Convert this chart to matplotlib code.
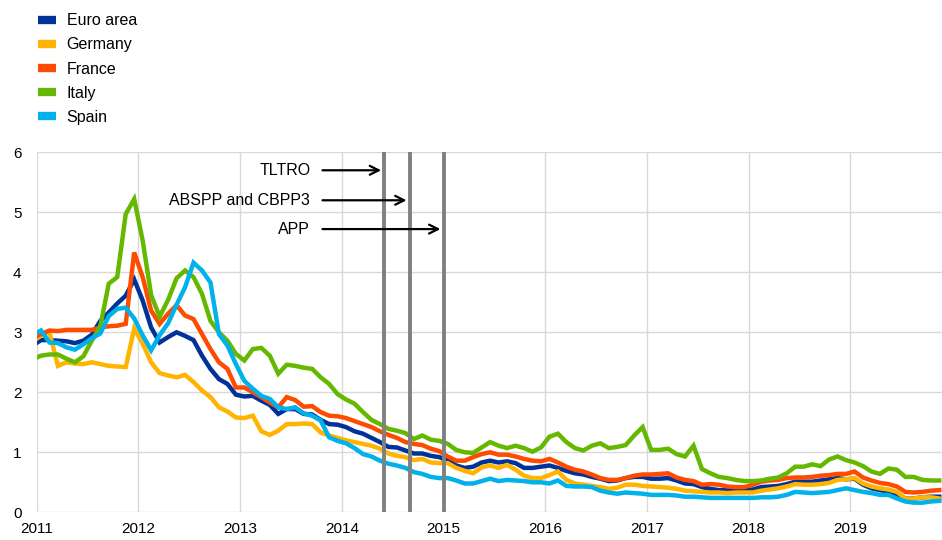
import numpy as np
import matplotlib
matplotlib.use("Agg")
import matplotlib.pyplot as plt
from matplotlib.lines import Line2D

plt.rcParams['font.family'] = ['Liberation Sans', 'DejaVu Sans']

# monthly data, Dec 2010 .. Nov 2019 (percentages)
euro_area = [2.78,
    2.87, 2.87, 2.86, 2.85, 2.82, 2.86, 2.96, 3.19, 3.33, 3.48, 3.61, 3.88,
    3.53, 3.08, 2.83, 2.92, 3.00, 2.94, 2.87, 2.61, 2.39, 2.22, 2.14, 1.96,
    1.93, 1.94, 1.86, 1.79, 1.64, 1.72, 1.72, 1.64, 1.63, 1.54, 1.47, 1.46,
    1.42, 1.35, 1.31, 1.24, 1.17, 1.09, 1.08, 1.03, 0.98, 0.98, 0.94, 0.92,
    0.86, 0.78, 0.74, 0.76, 0.83, 0.86, 0.83, 0.85, 0.82, 0.74, 0.74, 0.76,
    0.78, 0.74, 0.69, 0.65, 0.63, 0.59, 0.56, 0.52, 0.53, 0.57, 0.59, 0.59,
    0.56, 0.56, 0.57, 0.53, 0.48, 0.47, 0.42, 0.39, 0.37, 0.37, 0.36, 0.37,
    0.38, 0.42, 0.43, 0.44, 0.47, 0.51, 0.51, 0.51, 0.53, 0.55, 0.57, 0.55,
    0.56, 0.46, 0.40, 0.37, 0.34, 0.29, 0.23, 0.23, 0.25, 0.26, 0.26]
germany = [2.85,
    2.94, 3.00, 2.44, 2.50, 2.48, 2.47, 2.50, 2.47, 2.44, 2.43, 2.42, 3.06,
    2.81, 2.50, 2.32, 2.28, 2.25, 2.29, 2.17, 2.03, 1.92, 1.75, 1.68, 1.58,
    1.57, 1.61, 1.35, 1.29, 1.36, 1.47, 1.47, 1.48, 1.47, 1.33, 1.28, 1.24,
    1.20, 1.17, 1.14, 1.11, 1.06, 0.98, 0.94, 0.92, 0.87, 0.89, 0.83, 0.82,
    0.82, 0.74, 0.69, 0.65, 0.75, 0.78, 0.74, 0.79, 0.71, 0.61, 0.57, 0.57,
    0.62, 0.68, 0.54, 0.48, 0.46, 0.44, 0.42, 0.39, 0.41, 0.46, 0.46, 0.44,
    0.43, 0.42, 0.41, 0.39, 0.36, 0.35, 0.34, 0.33, 0.33, 0.32, 0.33, 0.33,
    0.33, 0.36, 0.38, 0.40, 0.43, 0.47, 0.46, 0.46, 0.47, 0.49, 0.54, 0.55,
    0.57, 0.48, 0.43, 0.40, 0.38, 0.34, 0.23, 0.23, 0.25, 0.25, 0.23]
france = [2.90,
    2.97, 3.03, 3.02, 3.04, 3.04, 3.04, 3.04, 3.08, 3.10, 3.11, 3.14, 4.33,
    3.92, 3.36, 3.14, 3.31, 3.45, 3.28, 3.22, 2.97, 2.72, 2.50, 2.39, 2.08,
    2.08, 2.00, 1.92, 1.83, 1.75, 1.92, 1.87, 1.76, 1.77, 1.67, 1.61, 1.60,
    1.57, 1.52, 1.47, 1.42, 1.35, 1.29, 1.24, 1.17, 1.14, 1.12, 1.06, 1.02,
    0.93, 0.86, 0.86, 0.92, 0.97, 1.00, 0.96, 0.96, 0.93, 0.89, 0.86, 0.85,
    0.89, 0.83, 0.76, 0.71, 0.68, 0.63, 0.57, 0.54, 0.54, 0.57, 0.61, 0.63,
    0.63, 0.64, 0.65, 0.58, 0.54, 0.52, 0.46, 0.47, 0.46, 0.43, 0.42, 0.42,
    0.46, 0.51, 0.53, 0.54, 0.57, 0.58, 0.58, 0.59, 0.61, 0.62, 0.64, 0.64,
    0.68, 0.58, 0.53, 0.49, 0.47, 0.43, 0.34, 0.33, 0.34, 0.36, 0.37]
italy = [2.55,
    2.61, 2.63, 2.63, 2.56, 2.50, 2.60, 2.86, 3.10, 3.81, 3.92, 4.97, 5.22,
    4.53, 3.62, 3.26, 3.54, 3.90, 4.03, 3.92, 3.64, 3.19, 3.00, 2.86, 2.64,
    2.53, 2.72, 2.74, 2.61, 2.31, 2.46, 2.44, 2.41, 2.39, 2.25, 2.14, 1.97,
    1.88, 1.81, 1.67, 1.54, 1.47, 1.39, 1.36, 1.32, 1.22, 1.28, 1.21, 1.19,
    1.14, 1.04, 1.00, 0.99, 1.08, 1.17, 1.11, 1.07, 1.11, 1.07, 1.01, 1.08,
    1.26, 1.31, 1.17, 1.07, 1.03, 1.11, 1.15, 1.07, 1.09, 1.12, 1.28, 1.42,
    1.04, 1.04, 1.06, 0.97, 0.93, 1.11, 0.72, 0.65, 0.59, 0.57, 0.54, 0.52,
    0.52, 0.53, 0.56, 0.58, 0.65, 0.76, 0.76, 0.80, 0.77, 0.88, 0.93, 0.87,
    0.83, 0.77, 0.68, 0.64, 0.73, 0.71, 0.59, 0.59, 0.54, 0.53, 0.53]
spain = [2.95,
    3.03, 2.83, 2.82, 2.75, 2.71, 2.80, 2.90, 2.98, 3.27, 3.39, 3.41, 3.23,
    2.95, 2.70, 2.95, 3.15, 3.46, 3.75, 4.16, 4.03, 3.83, 2.97, 2.78, 2.47,
    2.19, 2.06, 1.94, 1.89, 1.75, 1.72, 1.75, 1.65, 1.61, 1.53, 1.25, 1.19,
    1.15, 1.07, 0.97, 0.93, 0.86, 0.81, 0.78, 0.74, 0.67, 0.64, 0.59, 0.57,
    0.57, 0.53, 0.48, 0.48, 0.52, 0.56, 0.52, 0.54, 0.53, 0.52, 0.50, 0.50,
    0.48, 0.53, 0.44, 0.43, 0.43, 0.42, 0.36, 0.33, 0.31, 0.33, 0.32, 0.31,
    0.29, 0.29, 0.29, 0.28, 0.26, 0.26, 0.25, 0.24, 0.24, 0.24, 0.24, 0.24,
    0.24, 0.25, 0.25, 0.26, 0.29, 0.34, 0.33, 0.32, 0.33, 0.34, 0.37, 0.40,
    0.37, 0.34, 0.32, 0.29, 0.29, 0.23, 0.18, 0.16, 0.16, 0.18, 0.19]

series = [('Euro area', euro_area, '#003299'),
          ('Germany', germany, '#FFB400'),
          ('France', france, '#FF4B00'),
          ('Italy', italy, '#65B800'),
          ('Spain', spain, '#00B1EA')]

# announcements (decimal year) and their labels
events = ['TLTRO', 'ABSPP and CBPP3', 'APP']
event_dates = [2014 + 5/12, 2014 + 8/12, 2015.0]
event_label_y = [5.7, 5.2, 4.72]

# mid-month positions in decimal years, starting Dec 2010
t = 2010 + 11.5/12 + np.arange(len(euro_area)) / 12

fig = plt.figure(figsize=(9.42, 5.4), dpi=100)
ax = fig.add_axes([0.039, 0.0513, 0.961, 0.6667])

for i, (name, vals, col) in enumerate(series):
    ax.plot(t, vals, color=col, lw=3.2, solid_joinstyle='miter', zorder=3 + i * 0.1)

for d in event_dates:
    ax.axvline(d, color='#808080', lw=2.8, zorder=5)

for name, d, yv in zip(events, event_dates, event_label_y):
    ax.annotate('', xy=(d - 0.03, yv), xytext=(2013.81, yv),
                arrowprops=dict(arrowstyle='->', color='black', lw=1.6,
                                mutation_scale=16, shrinkA=0, shrinkB=0), zorder=6)
    ax.text(2013.69, yv, name, ha='right', va='center', fontsize=11.5, zorder=6)

ax.set_xlim(2011, 2019.902)
ax.set_ylim(0, 6)
ax.set_xticks(range(2011, 2020))
ax.set_yticks(range(0, 7))
ax.grid(True, color='#d9d9d9', lw=1.0, zorder=0)
ax.set_axisbelow(True)
for s in ax.spines.values():
    s.set_visible(False)
ax.tick_params(axis='both', length=0, labelsize=11)
ax.tick_params(axis='x', pad=7)
ax.tick_params(axis='y', pad=11)

handles = [Line2D([], [], color=c, lw=6, solid_capstyle='butt') for _, _, c in series]
fig.legend(handles, [s[0] for s in series], loc='upper left',
           bbox_to_anchor=(0.025, 1.002), frameon=False, fontsize=11.5,
           handlelength=1.15, handletextpad=0.65, labelspacing=0.57)

fig.savefig('out.png', dpi=100)
